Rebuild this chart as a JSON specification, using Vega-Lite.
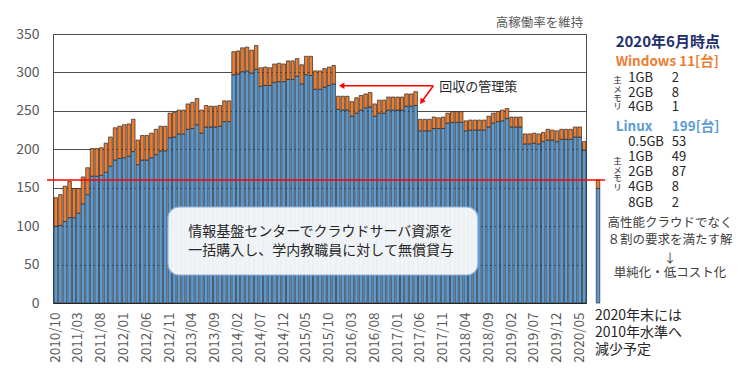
{
  "$schema": "https://vega.github.io/schema/vega-lite/v6.json",
  "width": 533,
  "height": 269,
  "autosize": {"type": "none"},
  "padding": {"left": 53, "top": 34, "right": 164, "bottom": 79},
  "background": "white",
  "config": {"font": "Noto Sans CJK JP", "view": {"stroke": "#4d4d4d", "strokeWidth": 1}},
  "datasets": {
    "bars": [
      {"m":"2010-10","L":100,"W":37},{"m":"2010-11","L":101,"W":40},{"m":"2010-12","L":106,"W":46},
      {"m":"2011-01","L":111,"W":47},{"m":"2011-02","L":111,"W":38},{"m":"2011-03","L":117,"W":32},
      {"m":"2011-04","L":129,"W":35},{"m":"2011-05","L":141,"W":35},{"m":"2011-06","L":165,"W":36},
      {"m":"2011-07","L":165,"W":36},{"m":"2011-08","L":166,"W":36},{"m":"2011-09","L":170,"W":38},
      {"m":"2011-10","L":178,"W":38},{"m":"2011-11","L":186,"W":42},{"m":"2011-12","L":188,"W":42},
      {"m":"2012-01","L":189,"W":43},{"m":"2012-02","L":191,"W":42},{"m":"2012-03","L":197,"W":42},
      {"m":"2012-04","L":180,"W":32},{"m":"2012-05","L":186,"W":32},{"m":"2012-06","L":186,"W":32},
      {"m":"2012-07","L":189,"W":32},{"m":"2012-08","L":193,"W":33},{"m":"2012-09","L":198,"W":32},
      {"m":"2012-10","L":198,"W":32},{"m":"2012-11","L":215,"W":32},{"m":"2012-12","L":216,"W":32},
      {"m":"2013-01","L":220,"W":31},{"m":"2013-02","L":220,"W":31},{"m":"2013-03","L":226,"W":33},
      {"m":"2013-04","L":227,"W":34},{"m":"2013-05","L":232,"W":34},{"m":"2013-06","L":221,"W":30},
      {"m":"2013-07","L":229,"W":28},{"m":"2013-08","L":229,"W":27},{"m":"2013-09","L":229,"W":27},
      {"m":"2013-10","L":230,"W":27},{"m":"2013-11","L":236,"W":27},{"m":"2013-12","L":236,"W":27},
      {"m":"2014-01","L":297,"W":30},{"m":"2014-02","L":298,"W":30},{"m":"2014-03","L":301,"W":31},
      {"m":"2014-04","L":302,"W":31},{"m":"2014-05","L":299,"W":30},{"m":"2014-06","L":304,"W":31},
      {"m":"2014-07","L":282,"W":24},{"m":"2014-08","L":283,"W":24},{"m":"2014-09","L":283,"W":23},
      {"m":"2014-10","L":287,"W":24},{"m":"2014-11","L":288,"W":24},{"m":"2014-12","L":288,"W":23},
      {"m":"2015-01","L":291,"W":24},{"m":"2015-02","L":291,"W":24},{"m":"2015-03","L":295,"W":23},
      {"m":"2015-04","L":285,"W":25},{"m":"2015-05","L":297,"W":24},{"m":"2015-06","L":296,"W":25},
      {"m":"2015-07","L":278,"W":24},{"m":"2015-08","L":278,"W":24},{"m":"2015-09","L":281,"W":24},
      {"m":"2015-10","L":283,"W":24},{"m":"2015-11","L":285,"W":24},{"m":"2015-12","L":252,"W":17},
      {"m":"2016-01","L":251,"W":18},{"m":"2016-02","L":251,"W":18},{"m":"2016-03","L":243,"W":19},
      {"m":"2016-04","L":247,"W":20},{"m":"2016-05","L":251,"W":19},{"m":"2016-06","L":254,"W":18},
      {"m":"2016-07","L":255,"W":19},{"m":"2016-08","L":243,"W":16},{"m":"2016-09","L":247,"W":17},
      {"m":"2016-10","L":247,"W":17},{"m":"2016-11","L":251,"W":17},{"m":"2016-12","L":251,"W":17},
      {"m":"2017-01","L":251,"W":17},{"m":"2017-02","L":251,"W":17},{"m":"2017-03","L":256,"W":16},
      {"m":"2017-04","L":256,"W":16},{"m":"2017-05","L":257,"W":18},{"m":"2017-06","L":224,"W":15},
      {"m":"2017-07","L":224,"W":15},{"m":"2017-08","L":224,"W":15},{"m":"2017-09","L":227,"W":15},
      {"m":"2017-10","L":227,"W":14},{"m":"2017-11","L":227,"W":15},{"m":"2017-12","L":234,"W":13},
      {"m":"2018-01","L":235,"W":14},{"m":"2018-02","L":235,"W":14},{"m":"2018-03","L":235,"W":14},
      {"m":"2018-04","L":224,"W":13},{"m":"2018-05","L":225,"W":13},{"m":"2018-06","L":225,"W":13},
      {"m":"2018-07","L":225,"W":13},{"m":"2018-08","L":225,"W":13},{"m":"2018-09","L":229,"W":14},
      {"m":"2018-10","L":234,"W":13},{"m":"2018-11","L":236,"W":13},{"m":"2018-12","L":237,"W":14},
      {"m":"2019-01","L":240,"W":13},{"m":"2019-02","L":229,"W":13},{"m":"2019-03","L":229,"W":13},
      {"m":"2019-04","L":229,"W":13},{"m":"2019-05","L":207,"W":13},{"m":"2019-06","L":207,"W":13},
      {"m":"2019-07","L":208,"W":13},{"m":"2019-08","L":207,"W":13},{"m":"2019-09","L":210,"W":12},
      {"m":"2019-10","L":212,"W":14},{"m":"2019-11","L":212,"W":13},{"m":"2019-12","L":210,"W":14},
      {"m":"2020-01","L":213,"W":13},{"m":"2020-02","L":213,"W":13},{"m":"2020-03","L":213,"W":13},
      {"m":"2020-04","L":216,"W":13},{"m":"2020-05","L":216,"W":13},{"m":"2020-06","L":199,"W":11}
    ],
    "proj": [{"m":"2020-09","L":149,"W":11}],
    "plain13": [
      {"t":"1GB","x":"2021-04-10","y":293},{"t":"2GB","x":"2021-04-10","y":273.6},{"t":"4GB","x":"2021-04-10","y":254.6},
      {"t":"2","x":"2022-01-25","y":293},{"t":"8","x":"2022-01-25","y":273.6},{"t":"1","x":"2022-01-25","y":254.6},
      {"t":"0.5GB","x":"2021-04-10","y":209.9},{"t":"1GB","x":"2021-04-10","y":190.3},{"t":"2GB","x":"2021-04-10","y":170.8},
      {"t":"4GB","x":"2021-04-10","y":151.3},{"t":"8GB","x":"2021-04-10","y":130.5},
      {"t":"53","x":"2022-01-25","y":209.9},{"t":"49","x":"2022-01-25","y":190.3},{"t":"87","x":"2022-01-25","y":170.8},
      {"t":"8","x":"2022-01-25","y":151.3},{"t":"2","x":"2022-01-25","y":130.5},
      {"t":"回収の管理策","x":"2017-10-25","y":281.4}
    ],
    "plain14": [
      {"t":"2020年末には","x":"2020-08-30","y":-16.9},
      {"t":"2010年水準へ","x":"2020-08-30","y":-39.4},
      {"t":"減少予定","x":"2020-08-30","y":-61.2},
      {"t":"情報基盤センターでクラウドサーバ資源を","x":"2013-03-23","y":92.8},
      {"t":"一括購入し、学内教職員に対して無償貸与","x":"2013-03-23","y":68}
    ],
    "center": [
      {"t":"高性能クラウドでなく","x":"2022-01-13","y":103.7},
      {"t":"８割の要求を満たす解","x":"2022-01-13","y":82},
      {"t":"↓","x":"2022-01-13","y":57},
      {"t":"単純化・低コスト化","x":"2022-01-13","y":38.6}
    ],
    "mem": [
      {"t":["主","メ","モ","リ"],"x":"2021-01-27","y":295.3},
      {"t":["主","メ","モ","リ"],"x":"2021-01-27","y":190.3}
    ]
  },
  "layer": [
    {
      "data": {"name": "bars"},
      "transform": [{"fold": ["L", "W"], "as": ["os", "v"]}],
      "mark": {"type": "bar", "stroke": "#262626", "strokeWidth": 0.7},
      "encoding": {
        "x": {
          "field": "m", "type": "temporal", "timeUnit": "utcyearmonth", "title": null,
          "scale": {"type": "utc", "nice": false, "padding": 0,
            "domain": [{"year": 2010, "month": 10, "date": 1, "utc": true}, {"year": 2020, "month": 7, "date": 1, "utc": true}]},
          "axis": {
            "values": [
              {"year":2010,"month":10,"date":16,"utc":true},{"year":2011,"month":3,"date":16,"utc":true},
              {"year":2011,"month":8,"date":16,"utc":true},{"year":2012,"month":1,"date":16,"utc":true},
              {"year":2012,"month":6,"date":16,"utc":true},{"year":2012,"month":11,"date":16,"utc":true},
              {"year":2013,"month":4,"date":16,"utc":true},{"year":2013,"month":9,"date":16,"utc":true},
              {"year":2014,"month":2,"date":16,"utc":true},{"year":2014,"month":7,"date":16,"utc":true},
              {"year":2014,"month":12,"date":16,"utc":true},{"year":2015,"month":5,"date":16,"utc":true},
              {"year":2015,"month":10,"date":16,"utc":true},{"year":2016,"month":3,"date":16,"utc":true},
              {"year":2016,"month":8,"date":16,"utc":true},{"year":2017,"month":1,"date":16,"utc":true},
              {"year":2017,"month":6,"date":16,"utc":true},{"year":2017,"month":11,"date":16,"utc":true},
              {"year":2018,"month":4,"date":16,"utc":true},{"year":2018,"month":9,"date":16,"utc":true},
              {"year":2019,"month":2,"date":16,"utc":true},{"year":2019,"month":7,"date":16,"utc":true},
              {"year":2019,"month":12,"date":16,"utc":true},{"year":2020,"month":5,"date":16,"utc":true}
            ],
            "tickCount": 40,
            "labelExpr": "utcFormat(datum.value, '%Y/%m')",
            "labelAngle": 270, "labelFontSize": 13.5, "labelColor": "#595959", "labelPadding": 9,
            "ticks": false, "grid": false, "domainColor": "#262626",
            "labelOverlap": false, "labelFlush": false, "labelBound": false
          }
        },
        "y": {
          "field": "v", "type": "quantitative", "stack": "zero", "title": null,
          "scale": {"domain": [0, 350], "nice": false},
          "axis": {"values": [0, 50, 100, 150, 200, 250, 300, 350], "tickCount": 12, "labelFontSize": 14, "labelColor": "#595959",
            "labelPadding": 14, "ticks": false, "grid": true, "gridColor": "#4d4d4d", "domainColor": "#4d4d4d",
            "labelOverlap": false, "labelFlush": false}
        },
        "color": {"field": "os", "type": "nominal", "legend": null,
          "scale": {"domain": ["L", "W"], "range": ["#5b9bd5", "#ed7d31"]}},
        "order": {"field": "os", "sort": "ascending"}
      }
    },
    {
      "data": {"name": "proj"},
      "transform": [{"fold": ["L", "W"], "as": ["os", "v"]}],
      "mark": {"type": "bar", "stroke": "#262626", "strokeWidth": 0.7},
      "encoding": {
        "x": {"field": "m", "type": "temporal", "timeUnit": "utcyearmonth", "title": null, "scale": {"type": "utc"}},
        "y": {"field": "v", "type": "quantitative", "stack": "zero", "title": null},
        "color": {"field": "os", "type": "nominal", "legend": null},
        "order": {"field": "os", "sort": "ascending"}
      }
    },
    {
      "data": {"values": [{"a": "2010-08-22", "b": "2020-11-05", "y": 160}]},
      "mark": {"type": "rule", "color": "#ff0000", "strokeWidth": 1.5},
      "encoding": {
        "x": {"field": "a", "type": "temporal", "title": null, "scale": {"type": "utc"}},
        "x2": {"field": "b"},
        "y": {"field": "y", "type": "quantitative", "title": null}
      }
    },
    {
      "data": {"values": [{"a": "2012-11-07", "b": "2018-07-10", "lo": 36.4, "hi": 124.9}]},
      "mark": {"type": "rect", "cornerRadius": 11, "fill": "white", "fillOpacity": 0.9, "stroke": "#8fb1dd", "strokeWidth": 1.2},
      "encoding": {
        "x": {"field": "a", "type": "temporal", "title": null, "scale": {"type": "utc"}},
        "x2": {"field": "b"},
        "y": {"field": "hi", "type": "quantitative", "title": null},
        "y2": {"field": "lo"}
      }
    },
    {
      "data": {"values": [
        {"a": "2017-09-15", "ya": 282.7, "b": "2016-01-12", "yb": 282.7},
        {"a": "2017-09-15", "ya": 282.7, "b": "2017-06-29", "yb": 261.9}
      ]},
      "mark": {"type": "rule", "color": "#ff0000", "strokeWidth": 1.5},
      "encoding": {
        "x": {"field": "a", "type": "temporal", "title": null, "scale": {"type": "utc"}},
        "x2": {"field": "b"},
        "y": {"field": "ya", "type": "quantitative", "title": null},
        "y2": {"field": "yb"}
      }
    },
    {
      "data": {"values": [{"x": "2016-01-12", "y": 282.7}]},
      "mark": {"type": "point", "shape": "triangle-left", "size": 40, "filled": true, "color": "#ff0000", "opacity": 1},
      "encoding": {
        "x": {"field": "x", "type": "temporal", "title": null, "scale": {"type": "utc"}},
        "y": {"field": "y", "type": "quantitative", "title": null}
      }
    },
    {
      "data": {"values": [{"x": "2017-06-29", "y": 261.9}]},
      "mark": {"type": "point", "shape": "triangle-up", "angle": 216, "size": 40, "filled": true, "color": "#ff0000", "opacity": 1},
      "encoding": {
        "x": {"field": "x", "type": "temporal", "title": null, "scale": {"type": "utc"}},
        "y": {"field": "y", "type": "quantitative", "title": null}
      }
    },
    {
      "data": {"name": "plain13"},
      "mark": {"type": "text", "align": "left", "baseline": "middle", "fontSize": 13, "fill": "#262626"},
      "encoding": {
        "x": {"field": "x", "type": "temporal", "title": null, "scale": {"type": "utc"}},
        "y": {"field": "y", "type": "quantitative", "title": null},
        "text": {"field": "t"}
      }
    },
    {
      "data": {"name": "plain14"},
      "mark": {"type": "text", "align": "left", "baseline": "middle", "fontSize": 14, "fill": "#262626"},
      "encoding": {
        "x": {"field": "x", "type": "temporal", "title": null, "scale": {"type": "utc"}},
        "y": {"field": "y", "type": "quantitative", "title": null},
        "text": {"field": "t"}
      }
    },
    {
      "data": {"name": "center"},
      "mark": {"type": "text", "align": "center", "baseline": "middle", "fontSize": 12.5, "fill": "#404040"},
      "encoding": {
        "x": {"field": "x", "type": "temporal", "title": null, "scale": {"type": "utc"}},
        "y": {"field": "y", "type": "quantitative", "title": null},
        "text": {"field": "t"}
      }
    },
    {
      "data": {"name": "mem"},
      "mark": {"type": "text", "align": "center", "baseline": "top", "fontSize": 8.5, "lineHeight": 8.8, "fill": "#262626"},
      "encoding": {
        "x": {"field": "x", "type": "temporal", "title": null, "scale": {"type": "utc"}},
        "y": {"field": "y", "type": "quantitative", "title": null},
        "text": {"field": "t"}
      }
    },
    {
      "data": {"values": [{"t": "2020年6月時点", "x": "2021-01-15", "y": 340}]},
      "mark": {"type": "text", "align": "left", "baseline": "middle", "fontSize": 15, "fontWeight": "bold", "fill": "#1f2f6e"},
      "encoding": {
        "x": {"field": "x", "type": "temporal", "title": null, "scale": {"type": "utc"}},
        "y": {"field": "y", "type": "quantitative", "title": null},
        "text": {"field": "t"}
      }
    },
    {
      "data": {"values": [{"t": "Windows 11[台]", "x": "2021-01-15", "y": 314}]},
      "mark": {"type": "text", "align": "left", "baseline": "middle", "fontSize": 13.5, "fontWeight": "bold", "fill": "#ed7d31"},
      "encoding": {
        "x": {"field": "x", "type": "temporal", "title": null, "scale": {"type": "utc"}},
        "y": {"field": "y", "type": "quantitative", "title": null},
        "text": {"field": "t"}
      }
    },
    {
      "data": {"values": [{"t": "Linux", "x": "2021-01-15", "y": 229.4}, {"t": "199[台]", "x": "2022-01-25", "y": 229.4}]},
      "mark": {"type": "text", "align": "left", "baseline": "middle", "fontSize": 13.5, "fontWeight": "bold", "fill": "#5b9bd5"},
      "encoding": {
        "x": {"field": "x", "type": "temporal", "title": null, "scale": {"type": "utc"}},
        "y": {"field": "y", "type": "quantitative", "title": null},
        "text": {"field": "t"}
      }
    },
    {
      "data": {"values": [{"t": "高稼働率を維持", "x": "2020-06-13", "y": 364}]},
      "mark": {"type": "text", "align": "right", "baseline": "middle", "fontSize": 12.5, "fill": "#595959"},
      "encoding": {
        "x": {"field": "x", "type": "temporal", "title": null, "scale": {"type": "utc"}},
        "y": {"field": "y", "type": "quantitative", "title": null},
        "text": {"field": "t"}
      }
    }
  ]
}
